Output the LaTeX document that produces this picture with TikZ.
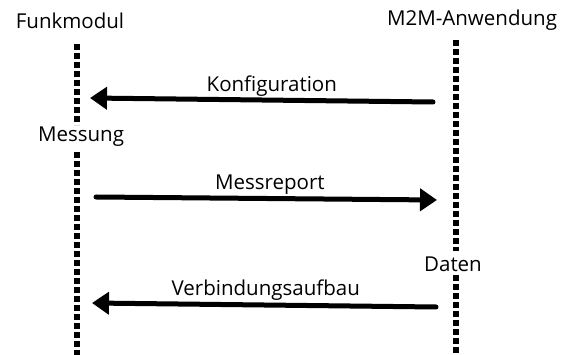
\documentclass[tikz,border=0pt]{standalone}
\usepackage{fontspec}
\setmainfont{Open Sans}
\usetikzlibrary{arrows.meta}
\begin{document}
\begin{tikzpicture}[x=1pt,y=-1pt,
  lifeline/.style={line width=6pt,dash pattern=on 6pt off 3pt,black},
  msg/.style={line width=5pt,line cap=round,-{Triangle[length=17pt,width=22pt]}},
  lbl/.style={font=\fontsize{20.5}{24}\selectfont,inner sep=0.5pt}]
\useasboundingbox (0,0) rectangle (579,355);
\node[lbl] (funk) at (70,21) {Funkmodul};
\node[lbl] (m2m) at (472,20) {M2M-Anwendung};
\node[lbl,fill=white] (mess) at (81,137) {Messung};
\node[lbl,fill=white] (daten) at (453,264) {Daten};
\coordinate (l1a) at (77,44);
\coordinate (l1b) at (77,125);
\coordinate (l2a) at (77,152);
\coordinate (l2b) at (77,355);
\coordinate (r1a) at (456,40);
\coordinate (r1b) at (456,251);
\coordinate (r2a) at (456,275);
\coordinate (r2b) at (456,355);
\draw[lifeline] (l1a) -- (l1b);
\draw[lifeline] (l2a) -- (l2b);
\draw[lifeline] (r1a) -- (r1b);
\draw[lifeline] (r2a) -- (r2b);
\coordinate (k1) at (433,102);
\coordinate (k2) at (90,98);
\coordinate (m1) at (96,197);
\coordinate (m2) at (437,200);
\coordinate (v1) at (436,307);
\coordinate (v2) at (92,303);
\draw[msg] (k1) -- node[lbl,above=1pt,pos=0.47] (kl) {Konfiguration} (k2);
\draw[msg] (m1) -- node[lbl,above=1pt,pos=0.51] (ml) {Messreport} (m2);
\draw[msg] (v1) -- node[lbl,above=2pt,pos=0.495] (vl) {Verbindungsaufbau} (v2);
\end{tikzpicture}
\end{document}
